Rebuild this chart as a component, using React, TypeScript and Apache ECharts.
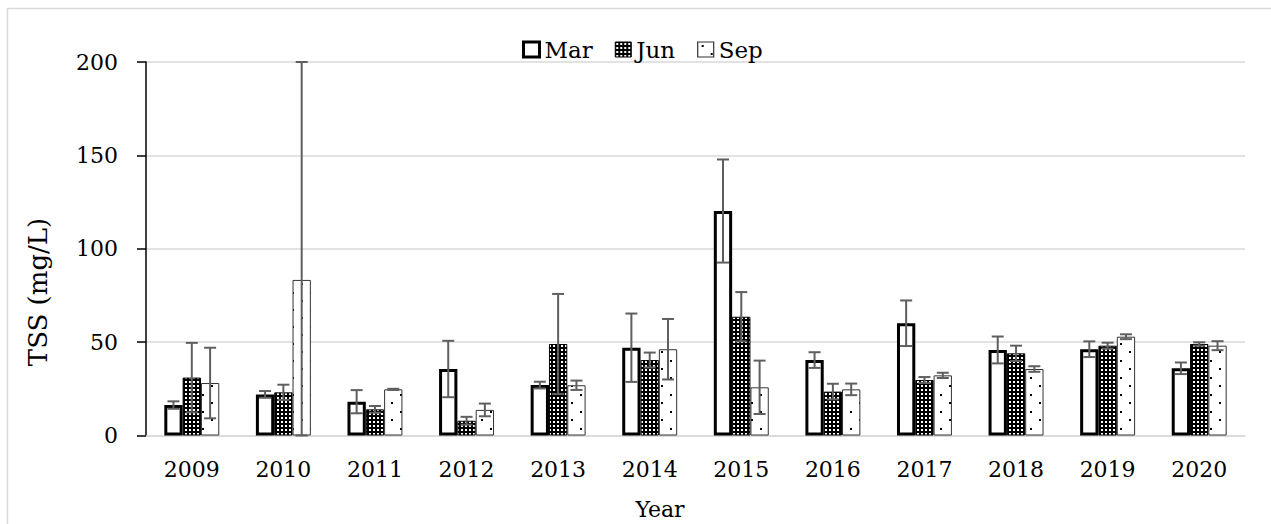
import React, { useEffect, useRef } from "react";
import * as echarts from "echarts";

const years = ["2009", "2010", "2011", "2012", "2013", "2014", "2015", "2016", "2017", "2018", "2019", "2020"];
const marValues = [16.3, 22.0, 18.1, 35.6, 27.0, 47.0, 120.2, 40.4, 60.1, 45.8, 46.2, 36.0];
const marErrors = [2.0, 1.8, 6.2, 15.1, 1.8, 18.3, 27.6, 4.2, 12.2, 7.2, 4.2, 3.1];
const junValues = [31.0, 23.1, 14.0, 7.9, 49.0, 40.4, 63.6, 23.5, 29.7, 44.0, 48.1, 49.0];
const junErrors = [18.6, 4.1, 1.8, 2.1, 26.8, 4.0, 13.2, 4.2, 1.6, 4.1, 1.6, 0.9];
const sepValues = [28.1, 83.3, 24.7, 13.7, 26.9, 46.2, 25.8, 24.7, 32.2, 35.6, 52.9, 48.1];
const sepErrors = [18.9, 117, 0.3, 3.4, 2.5, 16.2, 14.3, 3.1, 1.4, 1.5, 1.3, 2.4];
const yTicks = { min: 0, max: 200, interval: 50 };

const FONT = "'DejaVu Serif', serif";

function makeJunPattern() {
  const c = document.createElement("canvas");
  c.width = 4;
  c.height = 4;
  const ctx = c.getContext("2d")!;
  ctx.fillStyle = "#000";
  ctx.fillRect(0, 0, 4, 4);
  ctx.fillStyle = "#fff";
  ctx.fillRect(1, 1, 2, 2);
  return { image: c, repeat: "repeat", imageWidth: 4, imageHeight: 4 };
}

function makeSepPattern() {
  const c = document.createElement("canvas");
  c.width = 18;
  c.height = 17;
  const ctx = c.getContext("2d")!;
  ctx.fillStyle = "#fff";
  ctx.fillRect(0, 0, 18, 17);
  ctx.fillStyle = "#000";
  ctx.fillRect(4, 3, 2, 2);
  ctx.fillRect(13, 11, 2, 2);
  return { image: c, repeat: "repeat", imageWidth: 18, imageHeight: 17 };
}

function errorSeries(name: string, values: number[], errors: number[], slot: number) {
  return {
    type: "custom",
    name,
    silent: true,
    z: 10,
    data: values.map((v, i) => [i, v - errors[i], v + errors[i]]),
    encode: { x: 0, y: [1, 2] },
    renderItem: (params: any, api: any) => {
      const band = api.size([1, 0])[0];
      const offset = (slot - 1) * band * 0.2;
      const lowV = Math.max(yTicks.min, api.value(1));
      const highV = Math.min(yTicks.max, api.value(2));
      const lo = api.coord([api.value(0), lowV]);
      const hi = api.coord([api.value(0), highV]);
      const x = lo[0] + offset;
      const hw = 6;
      const style = { stroke: "#5f5f5f", lineWidth: 2 };
      return {
        type: "group",
        children: [
          { type: "line", shape: { x1: x, y1: hi[1], x2: x, y2: lo[1] }, style },
          { type: "line", shape: { x1: x - hw, y1: hi[1], x2: x + hw, y2: hi[1] }, style },
          { type: "line", shape: { x1: x - hw, y1: lo[1], x2: x + hw, y2: lo[1] }, style },
        ],
      };
    },
  };
}

export default function App() {
  const ref = useRef<HTMLDivElement>(null);

  useEffect(() => {
    document.body.style.margin = "0";
    document.body.style.overflow = "hidden";
    const chart = echarts.init(ref.current!, null, { renderer: "svg" });
    const junPattern = makeJunPattern();
    const sepPattern = makeSepPattern();

    chart.setOption({
      animation: false,
      backgroundColor: "#fff",
      textStyle: { fontFamily: FONT, color: "#000" },
      grid: { left: 146, right: 26, top: 62, bottom: 88.5, containLabel: false },
      legend: {
        left: 517,
        top: 33,
        icon: "rect",
        itemWidth: 16,
        itemHeight: 15,
        itemGap: 22,
        textStyle: { fontFamily: FONT, fontSize: 23, color: "#000" },
        data: [
          { name: "Mar", itemStyle: { borderWidth: 3, borderColor: "#000" } },
          { name: "Jun", itemStyle: { borderWidth: 1, borderColor: "#000" } },
          { name: "Sep", itemStyle: { borderWidth: 1.2, borderColor: "#333" } },
        ],
      },
      xAxis: {
        type: "category",
        data: years,
        axisLine: { show: true, lineStyle: { color: "#d9d9d9", width: 1.5 } },
        axisTick: { show: false },
        axisLabel: { fontFamily: FONT, fontSize: 22, color: "#000", margin: 23 },
      },
      yAxis: {
        type: "value",
        min: yTicks.min,
        max: yTicks.max,
        interval: yTicks.interval,
        axisLine: { show: true, lineStyle: { color: "#000", width: 1.5 } },
        axisTick: { show: true, inside: false, length: 9, lineStyle: { color: "#000", width: 1.5 } },
        splitLine: { show: true, lineStyle: { color: "#d9d9d9", width: 1.5 } },
        axisLabel: { fontFamily: FONT, fontSize: 22, color: "#000", margin: 28, padding: [0, 0, 7, 0] },
      },
      graphic: [
        {
          type: "rect",
          shape: { x: 7.5, y: 8.5, width: 1400, height: 700 },
          style: { fill: "none", stroke: "#d9d9d9", lineWidth: 1.5 },
          silent: true,
          z: -10,
        },
        {
          type: "text",
          x: 38,
          y: 292,
          rotation: Math.PI / 2,
          style: {
            text: "TSS (mg/L)",
            fontFamily: FONT,
            fontSize: 26,
            fill: "#000",
            align: "center",
            verticalAlign: "middle",
          },
        },
        {
          type: "text",
          x: 660,
          y: 509,
          style: {
            text: "Year",
            fontFamily: FONT,
            fontSize: 22,
            fill: "#000",
            align: "center",
            verticalAlign: "middle",
          },
        },
      ],
      series: [
        {
          type: "bar",
          name: "Mar",
          data: marValues,
          barGap: "0%",
          barCategoryGap: "40%",
          itemStyle: { color: "#fff", borderColor: "#000", borderWidth: 3 },
        },
        {
          type: "bar",
          name: "Jun",
          data: junValues,
          barGap: "0%",
          barCategoryGap: "40%",
          itemStyle: { color: junPattern, borderColor: "#000", borderWidth: 1 },
        },
        {
          type: "bar",
          name: "Sep",
          data: sepValues,
          barGap: "0%",
          barCategoryGap: "40%",
          itemStyle: { color: sepPattern, borderColor: "#333", borderWidth: 1 },
        },
        errorSeries("Mar err", marValues, marErrors, 0),
        errorSeries("Jun err", junValues, junErrors, 1),
        errorSeries("Sep err", sepValues, sepErrors, 2),
      ],
    });

    return () => chart.dispose();
  }, []);

  return <div ref={ref} style={{ width: 1271, height: 524 }} />;
}
